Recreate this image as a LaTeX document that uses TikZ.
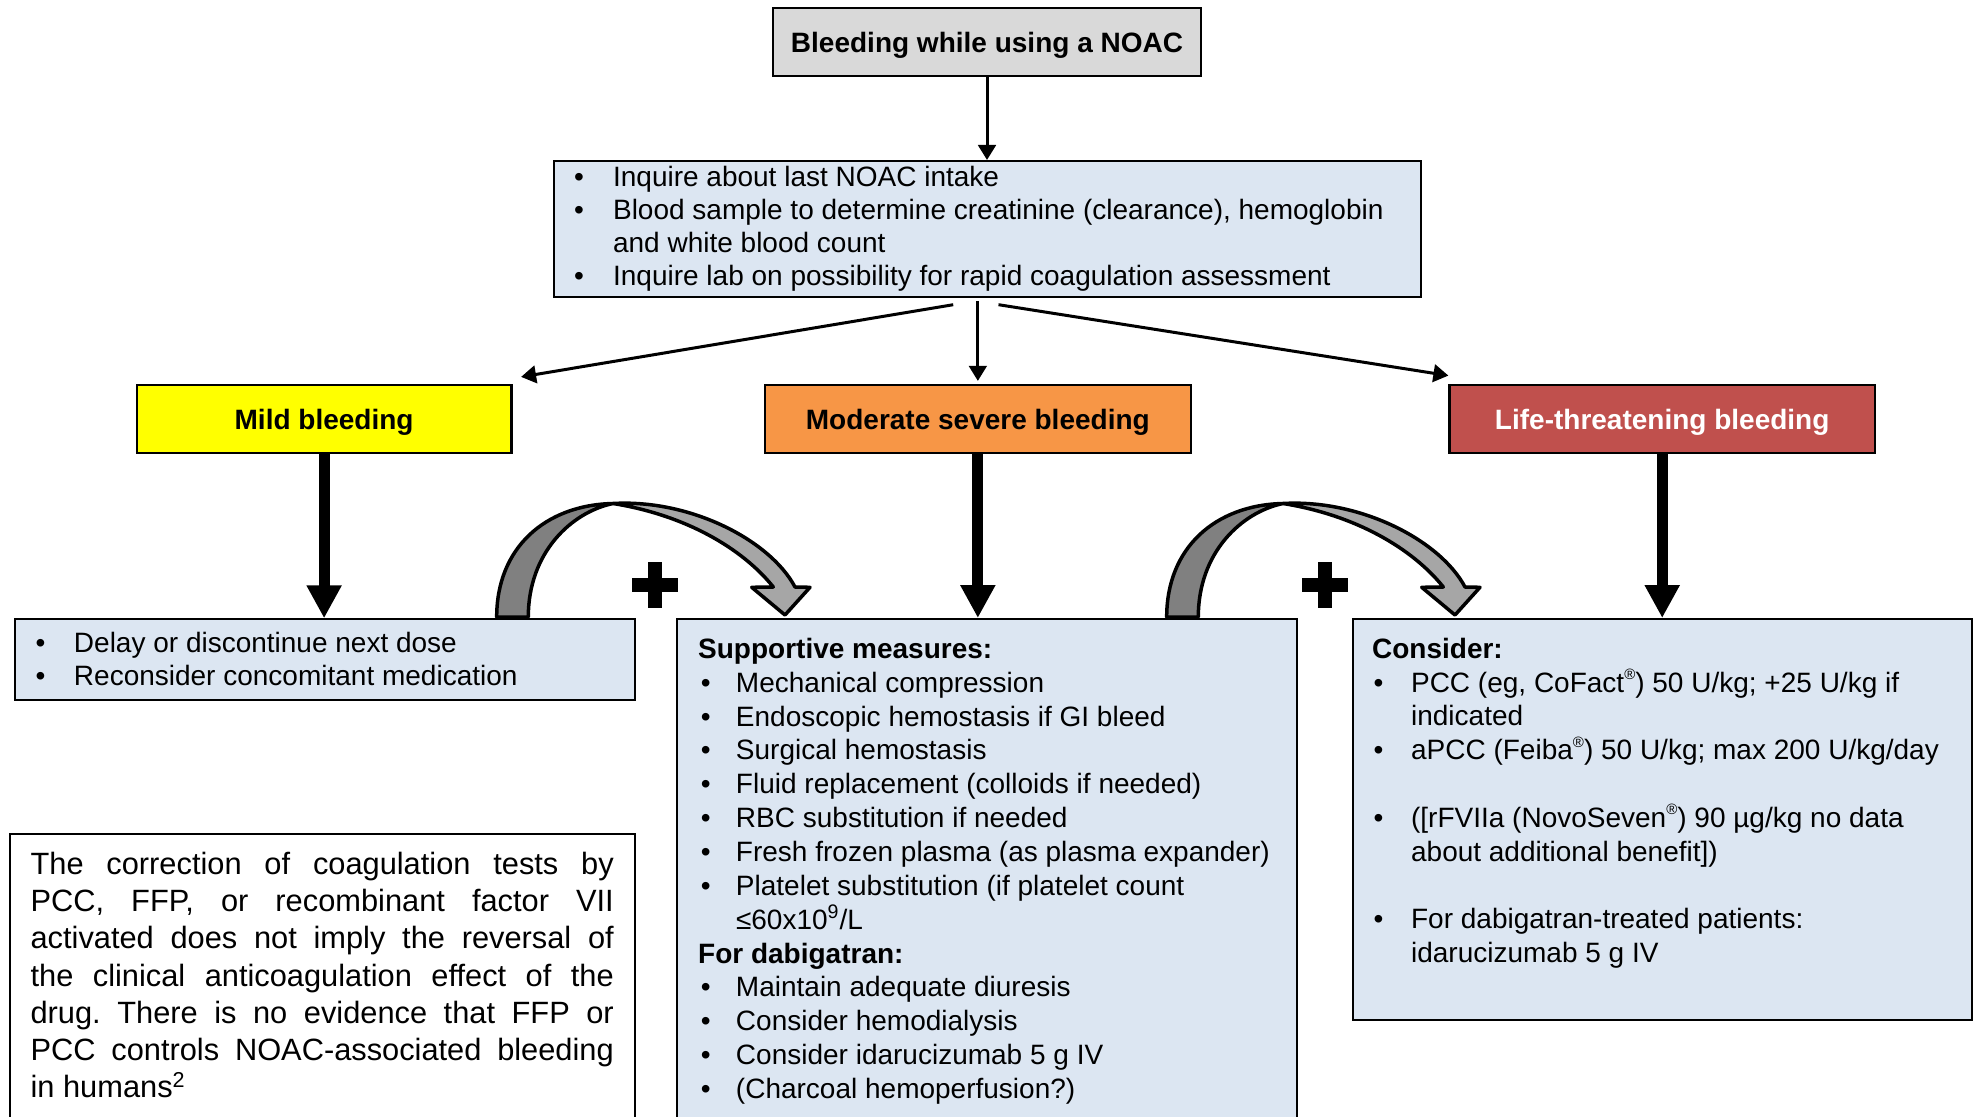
\documentclass[tikz,border=0pt]{standalone}
\usepackage{fontspec}
\setmainfont{Liberation Sans}
\usetikzlibrary{arrows.meta,calc}

\definecolor{boxblue}{HTML}{DCE6F2}
\definecolor{boxgray}{HTML}{D9D9D9}
\definecolor{mildyellow}{HTML}{FFFF00}
\definecolor{modorange}{HTML}{F79646}
\definecolor{lifered}{HTML}{C0504D}
\definecolor{twistdark}{HTML}{808080}
\definecolor{twistlight}{HTML}{A6A6A6}

% bullet offset and bullet-to-text gap, set per list node
\newlength\boff
\newlength\bgap
\newcommand\bul{\hspace*{\boff}\makebox[\bgap][l]{•}}
\newcommand\cont{\hspace*{\boff}\hspace*{\bgap}}
% one fully justified line of the note
\newcommand\jline[1]{\makebox[291.6pt][s]{#1}}
% small raised registered mark
\newcommand\regmark{\raisebox{0.45em}{\fontsize{7.5pt}{7.5pt}\selectfont ®}}

\begin{document}
\frenchspacing
\begin{tikzpicture}[x=0.5pt,y=-0.5pt,
  panel/.style={draw=black,line width=1pt,inner sep=0pt,anchor=north west},
  header/.style={draw=black,line width=1.1pt,inner sep=0pt,
    text height=10.2pt,text depth=0.3pt,
    font=\fontsize{14pt}{16.8pt}\selectfont\bfseries},
  listtext/.style={inner sep=0pt,anchor=north west,align=left,
    font=\fontsize{14pt}{#1}\selectfont},
  bullets/.style 2 args={execute at begin node={\global\boff=#1\relax\global\bgap=#2\relax}},
  thinarrow/.style={line width=1.5pt,-{Triangle[width=8.8pt,length=7.5pt]}},
  fatarrow/.style={line width=5.5pt,-{Triangle[width=16.5pt,length=16.5pt]}},
  twist/.style={draw=black,line width=1.75pt,line join=round},
]
\fill[white] (0,0) rectangle (1975,1117);
\useasboundingbox (0,0) rectangle (1975,1117);

% ---- twisted "plus" arrows between the treatment columns
\foreach \dx in {0,670}{
  \begin{scope}[shift={(\dx,0)}]
    \filldraw[twist,fill=twistdark]
      (496.7,617) .. controls (496.7,548) and (545,505) .. (613,503.5)
      .. controls (572,512) and (528.3,552) .. (528.3,617) -- cycle;
    \filldraw[twist,fill=twistlight]
      (613,503.5) .. controls (690,499) and (770,540) .. (795,587)
      -- (810,587.3) -- (785,615) -- (751.7,587.3) -- (773.3,587)
      .. controls (742,548) and (685,515) .. (613,503.5) -- cycle;
    \fill[black] (648.3,561.7) rectangle (661.7,608.3);
    \fill[black] (631.7,578.3) rectangle (678.3,591.7);
  \end{scope}
}

% ---- boxes
\node[header,fill=boxgray,minimum width=213.7pt,minimum height=33.85pt]
  (top) at (987,42.15) {Bleeding while using a NOAC};
\node[panel,fill=boxblue,minimum width=433.5pt,minimum height=68pt]
  (assess) at (553,160) {};
\node[header,fill=mildyellow,minimum width=187.3pt,minimum height=34.15pt]
  (mild) at (324.1,419.15) {Mild bleeding};
\node[header,fill=modorange,minimum width=212.85pt,minimum height=34.15pt]
  (moderate) at (977.85,419.15) {Moderate severe bleeding};
\node[header,fill=lifered,text=white,minimum width=212.7pt,minimum height=34.15pt]
  (life) at (1662.2,419.15) {Life-threatening bleeding};
\node[panel,fill=boxblue,minimum width=310.2pt,minimum height=40.5pt]
  (mildlist) at (13.9,618.3) {};
\node[panel,fill=boxblue,minimum width=309.8pt,minimum height=262pt]
  (support) at (676.4,618) {};
\node[panel,fill=boxblue,minimum width=309.85pt,minimum height=200.5pt]
  (consider) at (1351.6,618) {};
\node[panel,fill=white,minimum width=312.4pt,minimum height=152pt]
  (note) at (8.8,832.6) {};

% ---- box contents
\node[listtext=16.5pt,bullets={0pt}{19.55pt}] (assesstext) at (573.6,162.9)
  {\strut\bul Inquire about last NOAC intake\\
   \bul Blood sample to determine creatinine (clearance), hemoglobin\\
   \cont and white blood count\\
   \bul Inquire lab on possibility for rapid coagulation assessment};

\node[listtext=16.65pt,bullets={0pt}{19.25pt}] (mildtext) at (35.1,628.4)
  {\strut\bul Delay or discontinue next dose\\
   \bul Reconsider concomitant medication};

\node[listtext=16.925pt,bullets={1.35pt}{17.55pt}] (supporttext) at (697.8,634.3)
  {\strut\textbf{Supportive measures:}\\
   \bul Mechanical compression\\
   \bul Endoscopic hemostasis if GI bleed\\
   \bul Surgical hemostasis\\
   \bul Fluid replacement (colloids if needed)\\
   \bul RBC substitution if needed\\
   \bul Fresh frozen plasma (as plasma expander)\\
   \bul Platelet substitution (if platelet count\\
   \cont ≤60x10\textsuperscript{9}/L\\
   \textbf{For dabigatran:}\\
   \bul Maintain adequate diuresis\\
   \bul Consider hemodialysis\\
   \bul Consider idarucizumab 5 g IV\\
   \bul (Charcoal hemoperfusion?)};

\node[listtext=16.9pt,bullets={0.7pt}{18.8pt}] (considertext) at (1371.7,634.3)
  {\strut\textbf{Consider:}\\
   \bul PCC (eg, CoFact\regmark) 50 U/kg; +25 U/kg if\\
   \cont indicated\\
   \bul aPCC (Feiba\regmark) 50 U/kg; max 200 U/kg/day\\
   \strut\\
   \bul ([rFVIIa (NovoSeven\regmark) 90 µg/kg no data\\
   \cont about additional benefit])\\
   \strut\\
   \bul For dabigatran-treated patients:\\
   \cont idarucizumab 5 g IV};

\node[inner sep=0pt,anchor=north west,align=left,
      font=\fontsize{15.4pt}{18.6pt}\selectfont] (notetext) at (30.2,848)
  {\strut\jline{The correction of coagulation tests by}\\
   \jline{PCC, FFP, or recombinant factor VII}\\
   \jline{activated does not imply the reversal of}\\
   \jline{the clinical anticoagulation effect of the}\\
   \jline{drug. There is no evidence that FFP or}\\
   \jline{PCC controls NOAC-associated bleeding}\\
   in humans\textsuperscript{2}};

% ---- connectors
\draw[thinarrow] (top.south) -- (top.south |- assess.north);
\draw[thinarrow] ($(assess.south)+(-34.3,6.7)$) -- ($(mild.north east)+(8.6,-7)$);
\draw[thinarrow] ($(assess.south -| moderate.north)+(0,3)$) -- ($(moderate.north)+(0,-3)$);
\draw[thinarrow] ($(assess.south)+(11,6.7)$) -- ($(life.north west)+(0,-8.3)$);

\draw[fatarrow] (mild.south) -- (mild.south |- mildlist.north);
\draw[fatarrow] (moderate.south) -- (moderate.south |- support.north);
\draw[fatarrow] (life.south) -- (life.south |- consider.north);
\end{tikzpicture}
\end{document}
